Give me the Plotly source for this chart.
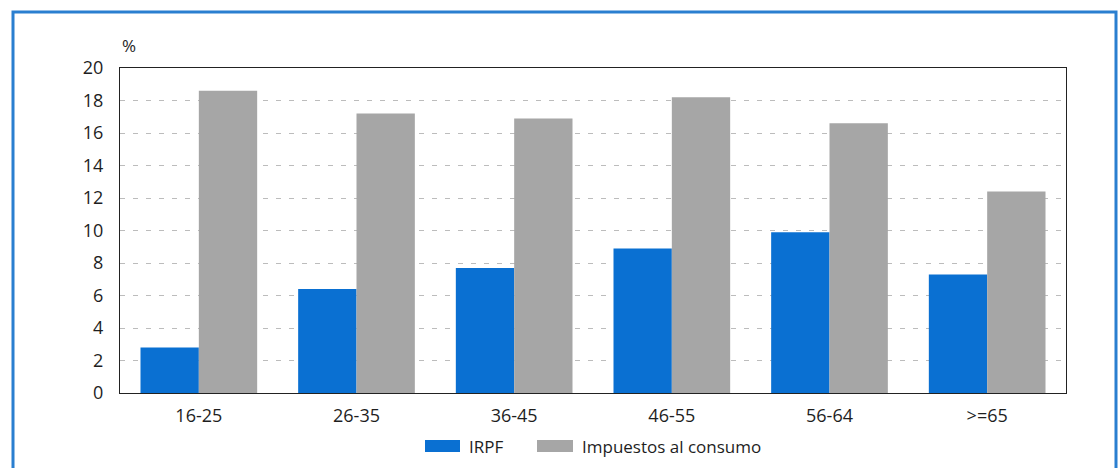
import plotly.graph_objects as go

categories = ["16-25", "26-35", "36-45", "46-55", "56-64", ">=65"]
irpf = [2.8, 6.4, 7.7, 8.9, 9.9, 7.3]
consumo = [18.6, 17.2, 16.9, 18.2, 16.6, 12.4]
series_names = ["IRPF", "Impuestos al consumo"]
series_colors = ["#0a70d2", "#a6a6a6"]
y_ticks = [0, 2, 4, 6, 8, 10, 12, 14, 16, 18, 20]

W, H = 1118, 468
L, R, T, B = 120, 52, 68, 75
pw, ph = W - L - R, H - T - B

def px(x):
    return (x - L) / pw

def py(y):
    return (H - B - y) / ph

FONT = "Open Sans"
TXT = "#1e1e1e"

fig = go.Figure()
for name, vals, col in zip(series_names, [irpf, consumo], series_colors):
    fig.add_trace(go.Bar(x=categories, y=vals, name=name,
                         marker=dict(color=col, line=dict(width=0)),
                         showlegend=False))

# custom legend (wide swatches like the reference)
legend_swatches = [(425, 460), (537, 573)]
legend_text_x = [467, 580]
shapes = [dict(type="rect", xref="paper", yref="paper",
               x0=px(13), x1=px(1116), y0=py(480), y1=py(12),
               line=dict(color="#2a7fd0", width=3), layer="below")]
annotations = [dict(text="%", xref="paper", yref="paper", x=0, y=py(45),
                    xanchor="left", yanchor="middle", showarrow=False,
                    font=dict(size=17, color=TXT))]
for (a, b), tx, name, col in zip(legend_swatches, legend_text_x, series_names, series_colors):
    shapes.append(dict(type="rect", xref="paper", yref="paper",
                       x0=px(a), x1=px(b), y0=py(452), y1=py(440),
                       fillcolor=col, line=dict(width=0)))
    annotations.append(dict(text=name, xref="paper", yref="paper", x=px(tx), y=py(446),
                            xanchor="left", yanchor="middle", showarrow=False,
                            font=dict(size=17, color=TXT)))

fig.update_layout(
    width=W, height=H,
    margin=dict(l=L, r=R, t=T, b=B),
    paper_bgcolor="white", plot_bgcolor="white",
    barmode="group", bargap=0.26, bargroupgap=0,
    font=dict(family=FONT, size=18, color=TXT),
    showlegend=False,
    xaxis=dict(showline=True, linecolor="#222", linewidth=1.2, mirror=True,
               ticks="", ticklabelstandoff=6, tickfont=dict(size=18, color=TXT)),
    yaxis=dict(range=[0, 20], tickvals=y_ticks, showline=True, linecolor="#222",
               linewidth=1.2, mirror=True, ticks="", ticklabelstandoff=12,
               showgrid=True, gridcolor="#bcbcbc", griddash="5px,8px", gridwidth=1,
               zeroline=False, tickfont=dict(size=18, color=TXT)),
    shapes=shapes,
    annotations=annotations,
)

fig.write_html("out.html", config={"displayModeBar": False},
               post_script="document.body.style.margin='0';document.body.style.overflow='hidden';")
